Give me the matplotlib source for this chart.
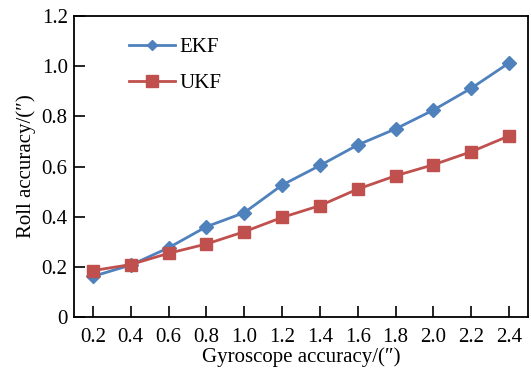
import matplotlib
matplotlib.use("Agg")
import matplotlib.pyplot as plt
from matplotlib.lines import Line2D

plt.rcParams['font.family'] = ['Liberation Serif', 'DejaVu Serif']

gyro = [0.2, 0.4, 0.6, 0.8, 1.0, 1.2, 1.4, 1.6, 1.8, 2.0, 2.2, 2.4]
ekf = [0.162, 0.207, 0.276, 0.360, 0.416, 0.526, 0.604, 0.686, 0.750, 0.825, 0.912, 1.013]
ukf = [0.185, 0.209, 0.254, 0.291, 0.340, 0.397, 0.444, 0.510, 0.563, 0.607, 0.659, 0.722]
xticklabels = ['0.2', '0.4', '0.6', '0.8', '1.0', '1.2', '1.4', '1.6', '1.8', '2.0', '2.2', '2.4']
yticks = [0, 0.2, 0.4, 0.6, 0.8, 1.0, 1.2]
yticklabels = ['0', '0.2', '0.4', '0.6', '0.8', '1.0', '1.2']

BLUE = '#4F81BD'
RED = '#C0504D'
FS = 15

fig = plt.figure(figsize=(5.31, 3.72), dpi=100)
ax = fig.add_axes([74/531, 1 - 317/372, (528 - 74)/531, (317 - 16)/372])

ax.plot(gyro, ekf, color=BLUE, marker='D', markersize=7.5, linewidth=2.0)
ax.plot(gyro, ukf, color=RED, marker='s', markersize=9, linewidth=2.0)

ax.set_xlim(0.1, 2.5)
ax.set_ylim(0, 1.2)
ax.set_xticks(gyro)
ax.set_xticklabels(xticklabels)
ax.set_yticks(yticks)
ax.set_yticklabels(yticklabels)

ax.tick_params(axis='both', direction='in', length=8, width=1.2, labelsize=FS, colors='black')
ax.tick_params(axis='x', pad=8)
ax.tick_params(axis='y', pad=4.5)
for s in ax.spines.values():
    s.set_linewidth(1.3)
    s.set_color('black')

ax.set_xlabel('Gyroscope accuracy/(″)', fontsize=FS, labelpad=0)
ax.set_ylabel('Roll accuracy/(″)', fontsize=FS, labelpad=4)

handles = [
    Line2D([], [], color=BLUE, marker='D', markersize=5.5, linewidth=2.0, label='EKF'),
    Line2D([], [], color=RED, marker='s', markersize=9, linewidth=2.0, label='UKF'),
]
ax.legend(handles=handles, loc='upper left', bbox_to_anchor=(0.08, 0.99), frameon=False,
          fontsize=FS, handlelength=2.2, handletextpad=0.2, labelspacing=0.77)

fig.savefig('out.png', dpi=100)
